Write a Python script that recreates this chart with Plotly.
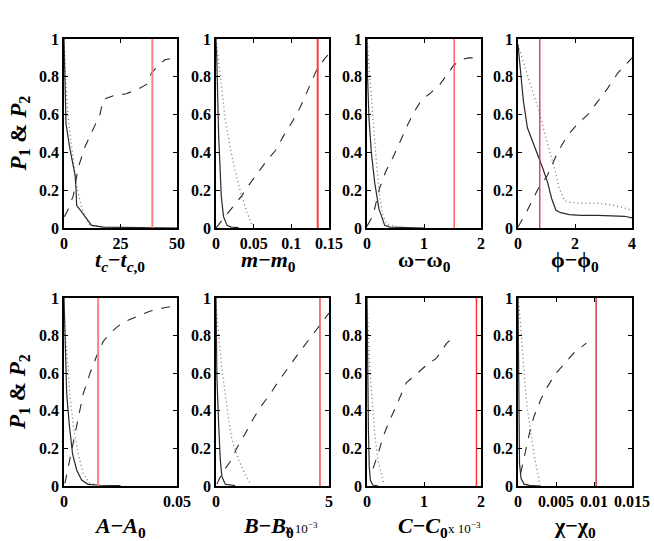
import plotly.graph_objects as go

# panel order: top row tc, m, omega, phi ; bottom row A, B, C, chi
# each panel has a solid curve, a dotted curve, a dashed curve and a red marker line

tc_solid_x = [0, 0.5, 0.9, 2.6, 3.8, 4.9, 5.3, 5.6, 7.8, 10, 12.2, 17.4, 25.4, 35, 50]
tc_solid_y = [1.0, 0.62, 0.55, 0.42, 0.35, 0.28, 0.21, 0.12, 0.085, 0.05, 0.014, 0.005, 0.003, 0.001, 0.0]
tc_dot_x = [0, 0.5, 1.0, 1.9, 3.4, 4.4, 5.3, 7.5, 9.5, 11.5, 18, 25, 35, 50]
tc_dot_y = [1.0, 0.8, 0.72, 0.58, 0.44, 0.32, 0.24, 0.12, 0.05, 0.014, 0.004, 0.002, 0.001, 0.0]
tc_dash_x = [0.2, 1.5, 4.1, 6.3, 9.3, 12.9, 15.9, 17.4, 21.8, 27.6, 33.5, 36.5, 38.7, 40.9, 44.6, 49, 50]
tc_dash_y = [0.06, 0.09, 0.17, 0.32, 0.43, 0.52, 0.60, 0.68, 0.70, 0.71, 0.74, 0.76, 0.82, 0.85, 0.89, 0.90, 0.90]

m_solid_x = [0, 0.001, 0.0035, 0.007, 0.010, 0.0146, 0.02, 0.03]
m_solid_y = [1.0, 0.9, 0.49, 0.17, 0.06, 0.014, 0.005, 0.002]
m_dot_x = [0, 0.0013, 0.0057, 0.012, 0.019, 0.0256, 0.034, 0.041, 0.048]
m_dot_y = [1.0, 0.95, 0.81, 0.58, 0.42, 0.30, 0.17, 0.085, 0.014]
m_dash_x = [0, 0.012, 0.023, 0.034, 0.045, 0.057, 0.068, 0.079, 0.090, 0.101, 0.112, 0.123, 0.134, 0.145, 0.15]
m_dash_y = [0.0, 0.06, 0.12, 0.17, 0.235, 0.30, 0.36, 0.41, 0.49, 0.56, 0.64, 0.74, 0.84, 0.90, 0.92]

w_solid_x = [0, 0.01, 0.035, 0.076, 0.135, 0.18, 0.21, 0.25, 0.31, 0.4, 0.7, 1.0]
w_solid_y = [1.0, 0.8, 0.58, 0.40, 0.24, 0.14, 0.10, 0.067, 0.014, 0.005, 0.003, 0.0]
w_dot_x = [0, 0.018, 0.06, 0.106, 0.165, 0.22, 0.28, 0.34, 0.52, 0.8]
w_dot_y = [1.0, 0.92, 0.76, 0.58, 0.35, 0.17, 0.067, 0.023, 0.005, 0.0]
w_dash_x = [0, 0.106, 0.22, 0.33, 0.45, 0.58, 0.72, 0.84, 0.96, 1.1, 1.28, 1.40, 1.52, 1.64, 1.78, 2.0]
w_dash_y = [0.01, 0.067, 0.21, 0.30, 0.37, 0.46, 0.55, 0.62, 0.68, 0.71, 0.76, 0.81, 0.86, 0.89, 0.90, 0.90]

phi_solid_x = [0, 0.09, 0.19, 0.33, 0.51, 0.68, 0.86, 1.04, 1.18, 1.33, 1.5, 1.8, 2.2, 2.8, 3.4, 3.74, 4.0]
phi_solid_y = [0.97, 0.81, 0.67, 0.53, 0.46, 0.39, 0.32, 0.24, 0.156, 0.094, 0.081, 0.071, 0.067, 0.067, 0.065, 0.062, 0.053]
phi_dot_x = [0, 0.21, 0.39, 0.56, 0.74, 0.92, 1.09, 1.27, 1.45, 1.62, 1.74, 2.2, 2.8, 3.39, 4.0]
phi_dot_y = [0.97, 0.86, 0.78, 0.70, 0.62, 0.51, 0.42, 0.32, 0.21, 0.147, 0.138, 0.13, 0.13, 0.12, 0.094]
phi_dash_x = [0, 0.33, 0.68, 1.04, 1.39, 1.74, 2.09, 2.45, 2.8, 3.15, 3.5, 3.86, 4.0]
phi_dash_y = [0.005, 0.094, 0.20, 0.28, 0.40, 0.49, 0.55, 0.60, 0.67, 0.74, 0.82, 0.88, 0.90]

A_solid_x = [0, 0.0006, 0.0012, 0.0024, 0.0038, 0.0056, 0.0078, 0.0107, 0.016, 0.025]
A_solid_y = [1.0, 0.67, 0.49, 0.32, 0.17, 0.085, 0.032, 0.009, 0.004, 0.002]
A_dot_x = [0, 0.0004, 0.0015, 0.0026, 0.0041, 0.0063, 0.0085, 0.0115, 0.016]
A_dot_y = [1.0, 0.83, 0.67, 0.49, 0.32, 0.17, 0.067, 0.014, 0.004]
A_dash_x = [0.0004, 0.0019, 0.0041, 0.0063, 0.0085, 0.0115, 0.0144, 0.0174, 0.021, 0.026, 0.032, 0.038, 0.0438, 0.05]
A_dash_y = [0.014, 0.10, 0.245, 0.37, 0.49, 0.60, 0.69, 0.77, 0.82, 0.87, 0.90, 0.93, 0.947, 0.96]

# B and C are in units of 1e-3
B_solid_x = [0, 0.04, 0.12, 0.19, 0.26, 0.41, 0.85]
B_solid_y = [1.0, 0.58, 0.32, 0.14, 0.05, 0.009, 0.002]
B_dot_x = [0, 0.015, 0.12, 0.26, 0.41, 0.56, 0.71, 1.0, 1.3, 1.56]
B_dot_y = [1.0, 0.94, 0.80, 0.62, 0.49, 0.35, 0.245, 0.14, 0.059, 0.005]
B_dash_x = [0.04, 0.26, 0.63, 1.0, 1.3, 1.66, 2.03, 2.4, 2.76, 3.13, 3.5, 3.87, 4.24, 4.6, 5.0]
B_dash_y = [0.01, 0.067, 0.13, 0.22, 0.28, 0.36, 0.43, 0.49, 0.556, 0.62, 0.68, 0.74, 0.80, 0.86, 0.92]

C_solid_x = [0, 0.01, 0.025, 0.04, 0.06, 0.1, 0.2]
C_solid_y = [1.0, 0.6, 0.3, 0.1, 0.03, 0.005, 0.0]
C_dot_x = [0, 0.006, 0.03, 0.06, 0.094, 0.135, 0.19, 0.25, 0.29]
C_dot_y = [1.0, 0.92, 0.76, 0.58, 0.44, 0.28, 0.14, 0.06, 0.018]
C_dash_x = [0.106, 0.194, 0.28, 0.37, 0.49, 0.60, 0.69, 0.81, 0.93, 1.05, 1.22, 1.4, 1.55]
C_dash_y = [0.094, 0.17, 0.26, 0.33, 0.41, 0.49, 0.55, 0.58, 0.61, 0.645, 0.68, 0.76, 0.80]

chi_solid_x = [0, 0.0001, 0.0002, 0.0004, 0.0008, 0.0015, 0.003]
chi_solid_y = [1.0, 0.4, 0.12, 0.04, 0.01, 0.003, 0.0]
chi_dot_x = [0, 0.00013, 0.00035, 0.00057, 0.00088, 0.0012, 0.0017, 0.0021, 0.0026, 0.0029]
chi_dot_y = [1.0, 0.96, 0.85, 0.71, 0.56, 0.42, 0.28, 0.17, 0.067, 0.005]
chi_dash_x = [0.00035, 0.0008, 0.0015, 0.0021, 0.003, 0.0039, 0.005, 0.0061, 0.0074, 0.009]
chi_dash_y = [0.067, 0.156, 0.28, 0.37, 0.46, 0.53, 0.60, 0.65, 0.71, 0.76]

red_x = [39.1, 0.135, 1.53, 0.765, 0.0151, 4.6, 1.92, 0.01028]
red_col = ['#ff7f7f', '#ff3b3b', '#ff4a4a', '#c8384a', '#ff8080', '#ff5050', '#ff2a2a', '#c83040']
red_w = [2, 2, 1.3, 1.3, 2, 1.6, 1.4, 1.4]

x_ranges = [[0, 50], [0, 0.15], [0, 2], [0, 4], [0, 0.05], [0, 5], [0, 2], [0, 0.015]]
x_ticks = [[0, 25, 50], [0, 0.05, 0.1, 0.15], [0, 1, 2], [0, 2, 4],
           [0, 0.05], [0, 5], [0, 1, 2], [0, 0.005, 0.01, 0.015]]
x_ticktext = [['0', '25', '50'], ['0', '0.05', '0.1', '0.15'], ['0', '1', '2'], ['0', '2', '4'],
              ['0', '0.05'], ['0', '5'], ['0', '1', '2'], ['0', '0.005', '0.01', '0.015']]
y_ticks = [0, 0.2, 0.4, 0.6, 0.8, 1]
y_ticktext = ['0', '0.2', '0.4', '0.6', '0.8', '1']
x_titles = ['<i>t</i><sub><i>c</i></sub>\u2212<i>t</i><sub><i>c</i>,0</sub>',
            '<i>m</i>\u2212<i>m</i><sub>0</sub>',
            '\u03c9\u2212\u03c9<sub>0</sub>',
            '\u03d5\u2212\u03d5<sub>0</sub>',
            '<i>A</i>\u2212<i>A</i><sub>0</sub>',
            '<i>B</i>\u2212<i>B</i><sub>0</sub>',
            '<i>C</i>\u2212<i>C</i><sub>0</sub>',
            '\u03c7\u2212\u03c7<sub>0</sub>']

panels = [
    (tc_solid_x, tc_solid_y, tc_dot_x, tc_dot_y, tc_dash_x, tc_dash_y),
    (m_solid_x, m_solid_y, m_dot_x, m_dot_y, m_dash_x, m_dash_y),
    (w_solid_x, w_solid_y, w_dot_x, w_dot_y, w_dash_x, w_dash_y),
    (phi_solid_x, phi_solid_y, phi_dot_x, phi_dot_y, phi_dash_x, phi_dash_y),
    (A_solid_x, A_solid_y, A_dot_x, A_dot_y, A_dash_x, A_dash_y),
    (B_solid_x, B_solid_y, B_dot_x, B_dot_y, B_dash_x, B_dash_y),
    (C_solid_x, C_solid_y, C_dot_x, C_dot_y, C_dash_x, C_dash_y),
    (chi_solid_x, chi_solid_y, chi_dot_x, chi_dot_y, chi_dash_x, chi_dash_y),
]

W, H = 654, 541
col_px = [(64, 177), (216, 329), (367, 481), (518, 632)]
row_px = [(39, 228), (298, 486)]
title_cx = [120.5, 268, 424, 575, 120.5, 268, 423, 575]


def px(v):
    return v / W


def py(v):
    return 1 - v / H


FONT = "Times New Roman, Liberation Serif, serif"

fig = go.Figure()
layout = dict(width=W, height=H, margin=dict(l=0, r=0, t=0, b=0, autoexpand=False),
              paper_bgcolor='white', plot_bgcolor='white', showlegend=False)
annotations = []

for i, (sx, sy, dx, dy, ax, ay) in enumerate(panels):
    r, c = divmod(i, 4)
    n = '' if i == 0 else str(i + 1)
    xa, ya = 'x' + n, 'y' + n
    fig.add_trace(go.Scatter(x=dx, y=dy, mode='lines', xaxis=xa, yaxis=ya,
                             line=dict(color='#777777', width=1.3, dash='1px,3px')))
    fig.add_trace(go.Scatter(x=ax, y=ay, mode='lines', xaxis=xa, yaxis=ya,
                             line=dict(color='#2a2a2a', width=1.1, dash='dash')))
    fig.add_trace(go.Scatter(x=sx, y=sy, mode='lines', xaxis=xa, yaxis=ya,
                             line=dict(color='#2a2a2a', width=1.2)))
    fig.add_trace(go.Scatter(x=[red_x[i], red_x[i]], y=[0, 1], mode='lines', xaxis=xa, yaxis=ya,
                             line=dict(color=red_col[i], width=red_w[i])))

    x0, x1 = col_px[c]
    y0, y1 = row_px[r]
    axis_common = dict(showline=True, linecolor='black', linewidth=1.5, mirror='ticks',
                       ticks='inside', ticklen=4, tickcolor='black', showgrid=False,
                       zeroline=False, automargin=False,
                       tickfont=dict(family=FONT, size=16, color='black', weight='bold'))
    layout['xaxis' + n] = dict(domain=[px(x0), px(x1)], range=x_ranges[i], anchor=ya,
                               tickvals=x_ticks[i], ticktext=['<b>%s</b>' % t for t in x_ticktext[i]],
                               **axis_common)
    layout['yaxis' + n] = dict(domain=[py(y1), py(y0)], range=[0, 1], anchor=xa,
                               tickvals=y_ticks, ticktext=['<b>%s</b>' % t for t in y_ticktext],
                               **axis_common)

    title_y = 261 if r == 0 else 527
    annotations.append(dict(text='<b>' + x_titles[i] + '</b>', x=px(title_cx[i]), y=py(title_y),
                            xref='paper', yref='paper', showarrow=False, xanchor='center', yanchor='middle',
                            font=dict(family=FONT, size=22, color='black')))

# y axis titles for the left column
for r in range(2):
    y0, y1 = row_px[r]
    annotations.append(dict(text='<b><i>P</i><sub>1</sub> & <i>P</i><sub>2</sub></b>',
                            x=px(19), y=py((y0 + y1) / 2), xref='paper', yref='paper',
                            showarrow=False, textangle=-90, xanchor='center', yanchor='middle',
                            font=dict(family=FONT, size=23, color='black')))

# exponent labels for B and C
for xp in (283, 446):
    annotations.append(dict(text='x 10<sup>\u22123</sup>', x=px(xp), y=py(528),
                            xref='paper', yref='paper', showarrow=False, xanchor='left', yanchor='middle',
                            font=dict(family=FONT, size=13, color='black')))

layout['annotations'] = annotations
fig.update_layout(**layout)

# drop the default page margin so the figure sits at the window corner
fig.write_html("out.html", config={'displayModeBar': False},
               post_script="document.body.style.margin='0';")
